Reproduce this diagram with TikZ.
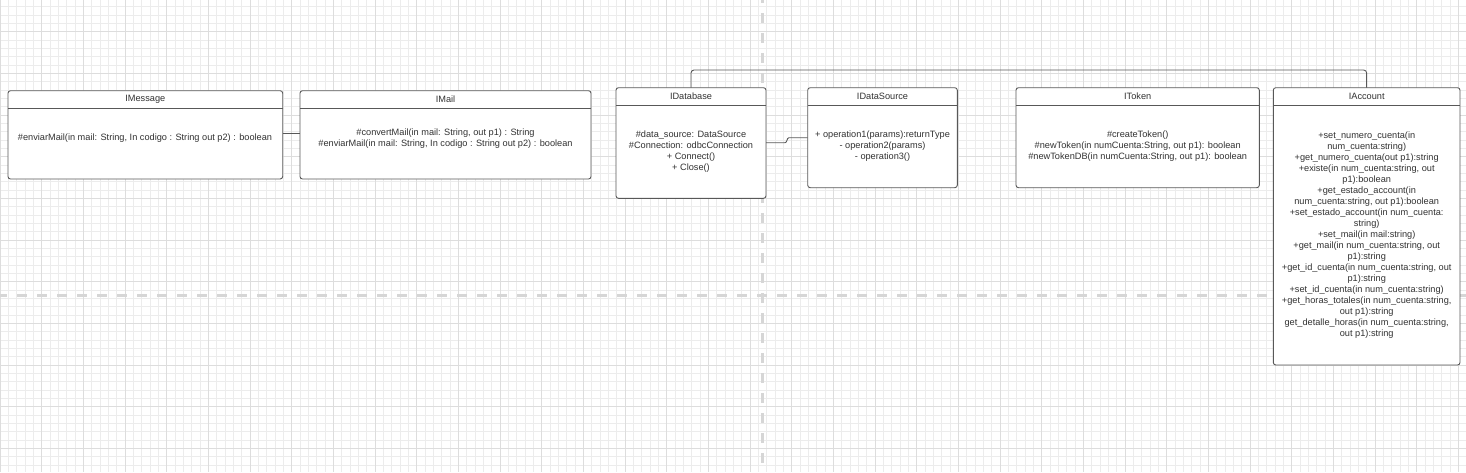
\documentclass[tikz,border=0pt]{standalone}
\usepackage{fontspec}
\setmainfont{Liberation Sans}
\usetikzlibrary{calc}
\definecolor{boxc}{RGB}{88,88,88}
\definecolor{txtc}{RGB}{50,50,50}
\definecolor{gridminor}{RGB}{236,236,236}
\definecolor{gridmajor}{RGB}{221,221,221}
\definecolor{dashc}{RGB}{214,214,214}
\begin{document}
\begin{tikzpicture}[x=1pt,y=-1pt,
  minorline/.style={draw=gridminor, line width=0.8pt},
  majorline/.style={draw=gridmajor, line width=0.9pt},
  centerdash/.style={draw=dashc, line width=3pt, dash pattern=on 10pt off 10pt},
  umlbox/.style={draw=boxc, fill=white, line width=0.9pt, rounded corners=2.5pt, inner sep=0pt, outer sep=0pt, anchor=north west},
  boxline/.style={draw=boxc, line width=0.9pt},
  conn/.style={draw=boxc, line width=0.9pt},
  titletext/.style={text=txtc, font=\fontsize{9.2}{11}\selectfont, inner sep=0pt},
  bodytext/.style={text=txtc, font=\fontsize{9.2}{11}\selectfont, align=center, inner sep=0pt}
]
\useasboundingbox (0,0) rectangle (1466,472);
\fill[white] (0,0) rectangle (1466,472);
% grid
\foreach \i in {0,...,176} \draw[minorline] (\i*8.33333,0) -- (\i*8.33333,472);
\foreach \i in {0,...,56} \draw[minorline] (0,6.66667+\i*8.33333) -- (1466,6.66667+\i*8.33333);
\foreach \i in {0,...,35} \draw[majorline] (\i*41.66667,0) -- (\i*41.66667,472);
\foreach \i in {-1,...,11} \draw[majorline] (0,31.66667+\i*41.66667) -- (1466,31.66667+\i*41.66667);
\draw[centerdash] (762,-7) -- (762,472);
\draw[centerdash] (-3,295) -- (1466,295);

% boxes
\node[umlbox, minimum width=274.7pt, minimum height=88.3pt] (imsg) at (8,90.7) {};
\node[umlbox, minimum width=291pt, minimum height=88.3pt] (imail) at (300,90.7) {};
\node[umlbox, minimum width=150pt, minimum height=110.6pt] (idb) at (616,87.7) {};
\node[umlbox, minimum width=149.6pt, minimum height=100pt] (ids) at (807.7,87.7) {};
\node[umlbox, minimum width=243.3pt, minimum height=100pt] (itok) at (1016,87.7) {};
\node[umlbox, minimum width=186.7pt, minimum height=277.3pt] (iacc) at (1273.3,87.7) {};

% header separators
\draw[boxline] ($(imsg.north west)+(0,17.6)$) -- ($(imsg.north east)+(0,17.6)$);
\draw[boxline] ($(imail.north west)+(0,17.6)$) -- ($(imail.north east)+(0,17.6)$);
\draw[boxline] ($(idb.north west)+(0,17.3)$) -- ($(idb.north east)+(0,17.3)$);
\draw[boxline] ($(ids.north west)+(0,17.3)$) -- ($(ids.north east)+(0,17.3)$);
\draw[boxline] ($(itok.north west)+(0,17.3)$) -- ($(itok.north east)+(0,17.3)$);
\draw[boxline] ($(iacc.north west)+(0,17.3)$) -- ($(iacc.north east)+(0,17.3)$);

% titles
\node[titletext] (imsgT) at (145.3,99) {IMessage};
\node[titletext] (imailT) at (445.5,99) {IMail};
\node[titletext] (idbT) at (691,96.5) {IDatabase};
\node[titletext] (idsT) at (882.5,96.5) {IDataSource};
\node[titletext] (itokT) at (1137.7,96.5) {IToken};
\node[titletext] (iaccT) at (1366.7,96.5) {IAccount};

% bodies
\node[bodytext] (imsgB) at (145,138) {\#enviarMail(in mail: String, In codigo : String out p2) : boolean};
\node[bodytext] (imailB) at (445.5,138.5) {\#convertMail(in mail: String, out p1) : String\\\#enviarMail(in mail: String, In codigo : String out p2) : boolean};
\node[bodytext] (idbB) at (691,151.5) {\#data\_source: DataSource\\\#Connection: odbcConnection\\+ Connect()\\+ Close()};
\node[bodytext] (idsB) at (882.5,146) {+ operation1(params):returnType\\- operation2(params)\\- operation3()};
\node[bodytext] (itokB) at (1137.7,146) {\#createToken()\\\#newToken(in numCuenta:String, out p1): boolean\\\#newTokenDB(in numCuenta:String, out p1): boolean};
\node[bodytext] (iaccB) at (1366.7,235) {+set\_numero\_cuenta(in\\num\_cuenta:string)\\+get\_numero\_cuenta(out p1):string\\+existe(in num\_cuenta:string, out\\p1):boolean\\+get\_estado\_account(in\\num\_cuenta:string, out p1):boolean\\+set\_estado\_account(in num\_cuenta:\\string)\\+set\_mail(in mail:string)\\+get\_mail(in num\_cuenta:string, out\\p1):string\\+get\_id\_cuenta(in num\_cuenta:string, out\\p1):string\\+set\_id\_cuenta(in num\_cuenta:string)\\+get\_horas\_totales(in num\_cuenta:string,\\out p1):string\\get\_detalle\_horas(in num\_cuenta:string,\\out p1):string};

% connectors
\coordinate (m1) at (0,133.3);
\draw[conn] (imsg.east |- m1) -- (imail.west |- m1);
\draw[conn, rounded corners=3pt] (idb.north) -- ++(0,-17.7) -| (iacc.north);
\coordinate (j1) at (785,142.7);
\coordinate (j2) at (789,137.7);
\draw[conn] (idb.east |- j1) -- (j1) .. controls (787.5,142.7) and (786.5,137.7) .. (j2) -- (ids.west |- j2);
\end{tikzpicture}
\end{document}
